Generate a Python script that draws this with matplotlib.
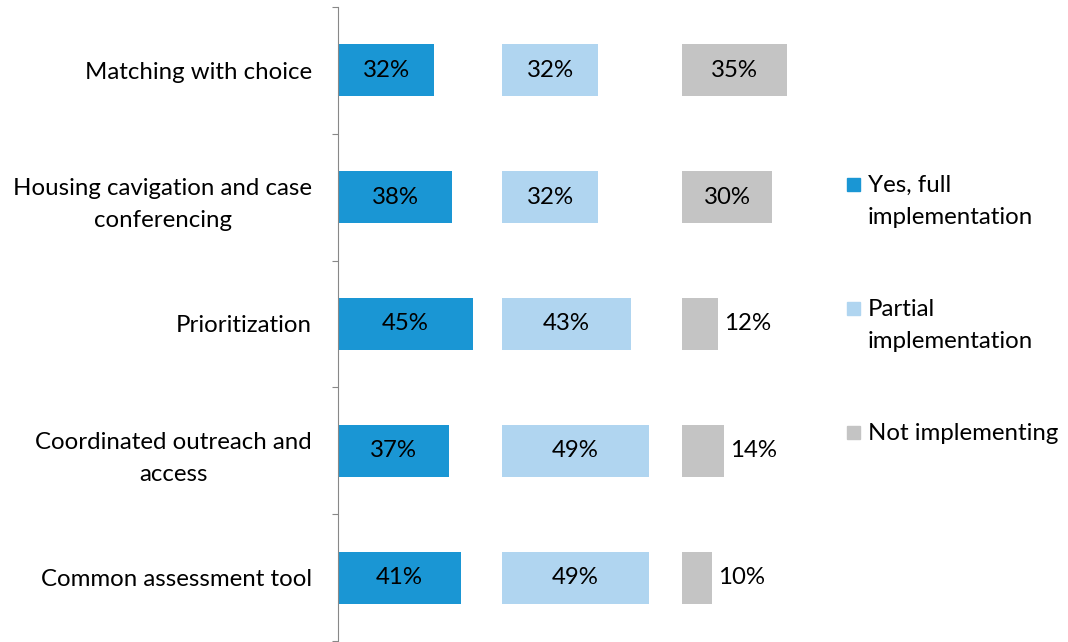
import matplotlib.pyplot as plt
from matplotlib.patches import Rectangle

categories = ['Matching with choice', 'Housing cavigation and case\nconferencing',
              'Prioritization', 'Coordinated outreach and\naccess', 'Common assessment tool']
full = [32, 38, 45, 37, 41]
partial = [32, 32, 43, 49, 49]
not_impl = [35, 30, 12, 14, 10]
series_names = ['Yes, full\nimplementation', 'Partial\nimplementation', 'Not implementing']
colors = ['#1A96D4', '#B0D5F0', '#C4C4C4']

plt.rcParams['font.family'] = ['Lato', 'DejaVu Sans']
fs = 17.3

fig = plt.figure(figsize=(10.68, 6.42), dpi=100)
ax = fig.add_axes([338 / 1068, 1 / 642, 480 / 1068, 634 / 642])

offsets = [0, 54.67, 114.67]
y = list(range(len(categories)))
for vals, off, col in zip([full, partial, not_impl], offsets, colors):
    ax.barh(y, vals, left=off, height=0.41, color=col)
    for yi, v in zip(y, vals):
        if v * 3 >= 45:
            ax.text(off + v / 2, yi, f'{v}%', ha='center', va='center', fontsize=fs)
        else:
            ax.text(off + v + 2, yi, f'{v}%', ha='left', va='center', fontsize=fs)

ax.set_xlim(0, 160)
ax.set_ylim(4.5, -0.5)
ax.set_xticks([])
ax.set_yticks([i - 0.5 for i in range(len(categories) + 1)])
ax.set_yticklabels([])
ax.set_yticks(y, minor=True)
ax.set_yticklabels(categories, minor=True, fontsize=fs, multialignment='center',
                   linespacing=1.65)
ax.tick_params(axis='y', which='minor', length=0, pad=18.7)
ax.tick_params(axis='y', which='major', length=4.3, color='#888888')
for s in ['top', 'right', 'bottom']:
    ax.spines[s].set_visible(False)
ax.spines['left'].set_color('#888888')

# legend drawn by hand
leg_y = [184, 308, 432]
for name, col, ly in zip(series_names, colors, leg_y):
    fig.patches.append(Rectangle((847 / 1068, 1 - (ly + 7) / 642), 13 / 1068, 13 / 642,
                                 transform=fig.transFigure, color=col))
    fig.text(868 / 1068, 1 - (ly - 9) / 642, name, ha='left', va='top', fontsize=fs,
             linespacing=1.65)

fig.savefig('out.png', dpi=100)
